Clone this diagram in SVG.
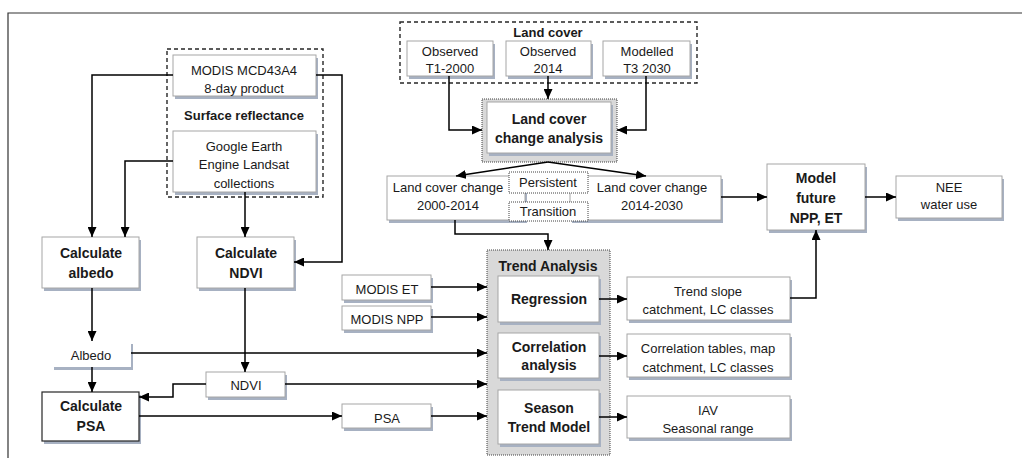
<svg xmlns="http://www.w3.org/2000/svg" width="1022" height="458" viewBox="0 0 1022 458">
<style>
text{font-family:"Liberation Sans",Arial,sans-serif;font-size:13px;fill:#1a1a1a;text-anchor:middle}
.b{font-weight:bold;font-size:14px}
.bx{fill:#fff;stroke:#a6a6a6;stroke-width:1}
.dk{fill:#fff;stroke:#262626;stroke-width:1.2}
.sh{fill:#a7b1c2}
.grp{fill:none;stroke:#262626;stroke-width:1.4;stroke-dasharray:4 3}
.gray{fill:#d9d9d9;stroke:#404040;stroke-width:1;stroke-dasharray:1 1}
.dot{fill:#fff;stroke:#404040;stroke-width:1;stroke-dasharray:1 1}
.c path{fill:none;stroke:#000;stroke-width:1.5}
.c .a{marker-end:url(#ah)}
</style>
<defs>
<marker id="ah" markerUnits="userSpaceOnUse" markerWidth="10" markerHeight="9" refX="10" refY="4.5" orient="auto">
<path d="M0,0 L10,4.5 L0,9 z" fill="#000"/>
</marker>
</defs>
<rect width="1022" height="458" fill="#fff"/>
<path d="M8,458 V13 H1022" fill="none" stroke="#333" stroke-width="1.2"/>

<g id="surface-reflectance">
<rect class="grp" x="167" y="49" width="156" height="148"/>
<text class="b" x="244" y="120" style="font-size:13px">Surface reflectance</text>
</g>
<g id="modis-mcd43a4">
<rect class="sh" x="175" y="58" width="143" height="41"/>
<rect class="bx" x="173" y="55" width="143" height="41"/>
<text x="244" y="75">MODIS MCD43A4</text>
<text x="244" y="93">8-day product</text>
</g>
<g id="google-earth">
<rect class="sh" x="175" y="134" width="143" height="61"/>
<rect class="bx" x="173" y="131" width="143" height="61"/>
<text x="244" y="151">Google Earth</text>
<text x="244" y="169">Engine Landsat</text>
<text x="244" y="188">collections</text>
</g>
<g id="calc-albedo">
<rect class="sh" x="44" y="240" width="97" height="51"/>
<rect class="bx" x="42" y="237" width="97" height="51"/>
<text class="b" x="91" y="258">Calculate</text>
<text class="b" x="91" y="278">albedo</text>
</g>
<g id="calc-ndvi">
<rect class="sh" x="199" y="240" width="97" height="51"/>
<rect class="bx" x="197" y="237" width="97" height="51"/>
<text class="b" x="246" y="258">Calculate</text>
<text class="b" x="246" y="278">NDVI</text>
</g>
<g id="albedo">
<rect class="sh" x="54" y="344" width="79" height="26"/>
<rect x="52" y="341" width="79" height="26" fill="#fff"/>
<text x="91" y="360">Albedo</text>
</g>
<g id="ndvi">
<rect class="sh" x="208" y="375" width="79" height="25"/>
<rect class="bx" x="206" y="372" width="79" height="25"/>
<text x="246" y="390">NDVI</text>
</g>
<g id="calc-psa">
<rect class="sh" x="44" y="395" width="97" height="49"/>
<rect class="dk" x="42" y="392" width="97" height="49"/>
<text class="b" x="91" y="411">Calculate</text>
<text class="b" x="91" y="431">PSA</text>
</g>
<g id="psa">
<rect class="sh" x="344" y="407" width="89" height="24"/>
<rect class="bx" x="342" y="404" width="89" height="24"/>
<text x="387" y="423">PSA</text>
</g>
<g id="modis-et">
<rect class="sh" x="344" y="278" width="89" height="25"/>
<rect class="bx" x="342" y="275" width="89" height="25"/>
<text x="387" y="294">MODIS ET</text>
</g>
<g id="modis-npp">
<rect class="sh" x="344" y="309" width="89" height="24"/>
<rect class="bx" x="342" y="306" width="89" height="24"/>
<text x="387" y="324">MODIS NPP</text>
</g>

<g id="land-cover">
<rect class="grp" x="400" y="22" width="297" height="61"/>
<text class="b" x="548" y="37" style="font-size:13px">Land cover</text>
</g>
<g id="observed-t1">
<rect class="sh" x="409" y="44" width="86" height="35"/>
<rect class="bx" x="407" y="41" width="86" height="35"/>
<text x="450" y="56">Observed</text>
<text x="450" y="73">T1-2000</text>
</g>
<g id="observed-2014">
<rect class="sh" x="508" y="44" width="85" height="35"/>
<rect class="bx" x="506" y="41" width="85" height="35"/>
<text x="548" y="56">Observed</text>
<text x="548" y="73">2014</text>
</g>
<g id="modelled-t3">
<rect class="sh" x="605" y="44" width="87" height="35"/>
<rect class="bx" x="603" y="41" width="87" height="35"/>
<text x="647" y="56">Modelled</text>
<text x="647" y="73">T3 2030</text>
</g>
<g id="lc-change-analysis">
<rect class="gray" x="482" y="99" width="135" height="63"/>
<rect class="sh" x="489" y="105" width="124" height="51"/>
<rect class="bx" x="487" y="102" width="124" height="51"/>
<text class="b" x="549" y="124">Land cover</text>
<text class="b" x="549" y="143">change analysis</text>
</g>
<g id="lcc-2000-2014">
<rect class="sh" x="389" y="179" width="138" height="44"/>
<rect class="bx" x="387" y="176" width="138" height="44"/>
<text x="448" y="192">Land cover change</text>
<text x="448" y="210">2000-2014</text>
</g>
<g id="lcc-2014-2030">
<rect class="sh" x="572" y="179" width="151" height="44"/>
<rect class="bx" x="570" y="176" width="151" height="44"/>
<text x="652" y="192">Land cover change</text>
<text x="652" y="210">2014-2030</text>
</g>
<g id="persistent">
<rect class="dot" x="509" y="172" width="79" height="21"/>
<text x="548" y="187">Persistent</text>
</g>
<g id="transition">
<rect class="dot" x="509" y="202" width="79" height="19"/>
<text x="548" y="216">Transition</text>
</g>

<g id="trend-analysis">
<rect class="gray" x="487" y="250" width="123" height="205"/>
<text class="b" x="548" y="271">Trend Analysis</text>
</g>
<g id="regression">
<rect class="sh" x="500" y="279" width="101" height="46"/>
<rect class="bx" x="498" y="276" width="101" height="46"/>
<text class="b" x="549" y="304">Regression</text>
</g>
<g id="correlation-analysis">
<rect class="sh" x="500" y="336" width="101" height="45"/>
<rect class="bx" x="498" y="333" width="101" height="45"/>
<text class="b" x="549" y="352">Correlation</text>
<text class="b" x="549" y="370">analysis</text>
</g>
<g id="season-trend-model">
<rect class="sh" x="500" y="393" width="101" height="54"/>
<rect class="bx" x="498" y="390" width="101" height="54"/>
<text class="b" x="549" y="413">Season</text>
<text class="b" x="549" y="432">Trend Model</text>
</g>
<g id="trend-slope">
<rect class="sh" x="629" y="280" width="163" height="43"/>
<rect class="bx" x="627" y="277" width="163" height="43"/>
<text x="708" y="296">Trend slope</text>
<text x="708" y="314">catchment, LC classes</text>
</g>
<g id="correlation-tables">
<rect class="sh" x="629" y="337" width="163" height="43"/>
<rect class="bx" x="627" y="334" width="163" height="43"/>
<text x="708" y="353">Correlation tables, map</text>
<text x="708" y="372">catchment, LC classes</text>
</g>
<g id="iav">
<rect class="sh" x="629" y="399" width="163" height="42"/>
<rect class="bx" x="627" y="396" width="163" height="42"/>
<text x="708" y="415">IAV</text>
<text x="708" y="433">Seasonal range</text>
</g>
<g id="model-future">
<rect class="sh" x="769" y="167" width="98" height="66"/>
<rect class="bx" x="767" y="164" width="98" height="66"/>
<text class="b" x="816" y="183">Model</text>
<text class="b" x="816" y="203">future</text>
<text class="b" x="816" y="223">NPP, ET</text>
</g>
<g id="nee">
<rect class="sh" x="898" y="179" width="106" height="42"/>
<rect class="bx" x="896" y="176" width="106" height="42"/>
<text x="949" y="192">NEE</text>
<text x="949" y="209">water use</text>
</g>

<g id="connectors" class="c">
<path class="a" d="M173,75 H92 V237"/>
<path class="a" d="M173,161 H125 V237"/>
<path class="a" d="M245,192 V237"/>
<path class="a" d="M316,75 H342 V262 H294"/>
<path class="a" d="M92,288 V341"/>
<path class="a" d="M92,367 V392"/>
<path class="a" d="M245,288 V372"/>
<path class="a" d="M206,384 H173 V397 H139"/>
<path class="a" d="M131,353 H487"/>
<path class="a" d="M285,384 H487"/>
<path class="a" d="M139,416 H342"/>
<path class="a" d="M431,416 H487"/>
<path class="a" d="M431,287 H487"/>
<path class="a" d="M431,317 H487"/>
<path class="a" d="M599,299 H627"/>
<path class="a" d="M599,356 H627"/>
<path class="a" d="M599,417 H627"/>
<path class="a" d="M790,298 H816 V230"/>
<path class="a" d="M865,197 H896"/>
<path class="a" d="M721,197 H767"/>
<path class="a" d="M455,220 V234 H548 V250"/>
<path class="a" d="M449,76 V130 H482"/>
<path class="a" d="M548,76 V99"/>
<path class="a" d="M646,76 V130 H617"/>
<path class="a" d="M548,162 L456,176"/>
<path class="a" d="M548,162 L646,176"/>
</g>
</svg>
